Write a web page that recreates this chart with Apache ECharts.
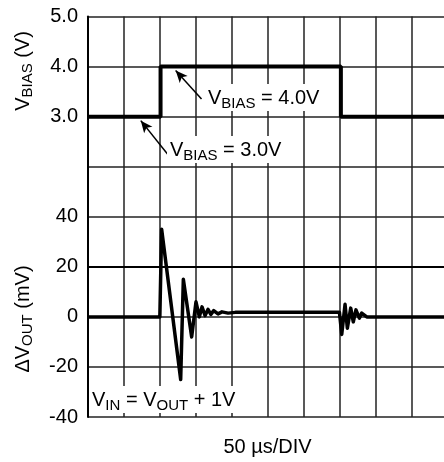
<!DOCTYPE html>
<html>
<head>
<meta charset="utf-8">
<script src="https://cdn.jsdelivr.net/npm/echarts@6/dist/echarts.min.js"></script>
<style>
    html, body { margin: 0; padding: 0; background: #fff; }
    #chart { width: 444px; height: 462px; }
</style>
</head>
<body>
<div id="chart"></div>
<script>
// time in microseconds (50 us per division)
const biasTime = [0, 101, 101, 352, 352, 500];
const biasVolts = [3.0, 3.0, 4.0, 4.0, 3.0, 3.0];

const outTime = [0, 100, 102.5, 129, 132.7, 144.3, 150.3, 155, 158.7, 163, 167, 171, 175, 181, 186.5, 195, 205,
    350, 353.2, 357.8, 361, 365.7, 369.3, 373, 377.7, 381, 388, 500];
const outMilliVolts = [0, 0, 35, -25, 15, -8, 6, 0, 4, 0.5, 3, 1, 2.5, 1.2, 2, 1.5, 1.8,
    1.8, -7, 5, -4.5, 3.5, -2, 2.8, -0.5, 1.5, 0, 0];

const biasTicks = [3, 4, 5];
const outTicks = [-40, -20, 0, 20, 40];

const font = '"Liberation Sans", Arial, sans-serif';
const black = '#000';

const richText = {
    m: { fontSize: 20, fontFamily: font, color: black },
    s: { fontSize: 15, fontFamily: font, color: black, padding: [10, 0, 0, 0], verticalAlign: 'bottom' }
};

function label(x, y, text) {
    return {
        type: 'text',
        x: x,
        y: y,
        z: 100,
        style: {
            text: text,
            rich: richText,
            backgroundColor: '#fff',
            padding: [2, 3, 0, 3]
        }
    };
}

const chart = echarts.init(document.getElementById('chart'));

chart.setOption({
    animation: false,
    grid: {
        left: 88,
        top: 16.5,
        width: 359.2,
        height: 400.5,
        containLabel: false,
        outerBoundsMode: 'none'
    },
    xAxis: {
        type: 'value',
        min: 0,
        max: 500,
        interval: 50,
        axisLabel: { show: false },
        axisTick: { show: false },
        axisLine: { show: true, lineStyle: { color: black, width: 2 } },
        splitLine: { show: true, lineStyle: { color: '#222', width: 1.5 } },
        name: '50 µs/DIV',
        nameLocation: 'middle',
        nameGap: 20,
        nameTextStyle: { fontSize: 20, fontFamily: font, color: black, verticalAlign: 'top' }
    },
    yAxis: [
        {
            type: 'value',
            min: -3,
            max: 5,
            interval: 1,
            position: 'left',
            axisTick: { show: false },
            axisLine: { show: true, lineStyle: { color: black, width: 2 } },
            splitLine: { show: true, lineStyle: { color: '#222', width: 1.5 } },
            axisLabel: {
                margin: 10,
                fontSize: 20,
                fontFamily: font,
                color: black,
                formatter: v => biasTicks.includes(v) ? v.toFixed(1) : ''
            }
        },
        {
            type: 'value',
            min: -40,
            max: 120,
            interval: 20,
            position: 'left',
            axisTick: { show: false },
            axisLine: { show: false },
            splitLine: { show: false },
            axisLabel: {
                margin: 10,
                fontSize: 20,
                fontFamily: font,
                color: black,
                formatter: v => outTicks.includes(v) ? String(v) : ''
            }
        }
    ],
    series: [
        {
            name: 'VBIAS',
            type: 'line',
            yAxisIndex: 0,
            showSymbol: false,
            silent: true,
            lineStyle: { color: black, width: 4 },
            data: biasTime.map((t, i) => [t, biasVolts[i]]),
            markLine: {
                silent: true,
                symbol: ['none', 'arrow'],
                symbolSize: [8, 12],
                label: { show: false },
                lineStyle: { color: black, width: 1.5, type: 'solid' },
                data: [
                    [{ coord: [158, 3.35] }, { coord: [122, 3.92] }],
                    [{ coord: [112, 2.23] }, { coord: [73.5, 2.92] }]
                ]
            }
        },
        {
            name: 'DVOUT',
            type: 'line',
            yAxisIndex: 1,
            showSymbol: false,
            silent: true,
            lineStyle: { color: black, width: 3.5, join: 'round' },
            data: outTime.map((t, i) => [t, outMilliVolts[i]])
        }
    ],
    graphic: [
        label(205, 84, '{m|V}{s|BIAS}{m| = 4.0V}'),
        label(167, 136, '{m|V}{s|BIAS}{m| = 3.0V}'),
        label(89, 386, '{m|V}{s|IN}{m| = V}{s|OUT}{m| + 1V}'),
        {
            type: 'text',
            x: 23,
            y: 71,
            rotation: Math.PI / 2,
            style: {
                text: '{m|V}{s|BIAS}{m| (V)}',
                rich: richText,
                align: 'center',
                verticalAlign: 'middle'
            }
        },
        {
            type: 'text',
            x: 23,
            y: 319,
            rotation: Math.PI / 2,
            style: {
                text: '{m|ΔV}{s|OUT}{m| (mV)}',
                rich: richText,
                align: 'center',
                verticalAlign: 'middle'
            }
        }
    ]
});
</script>
</body>
</html>
